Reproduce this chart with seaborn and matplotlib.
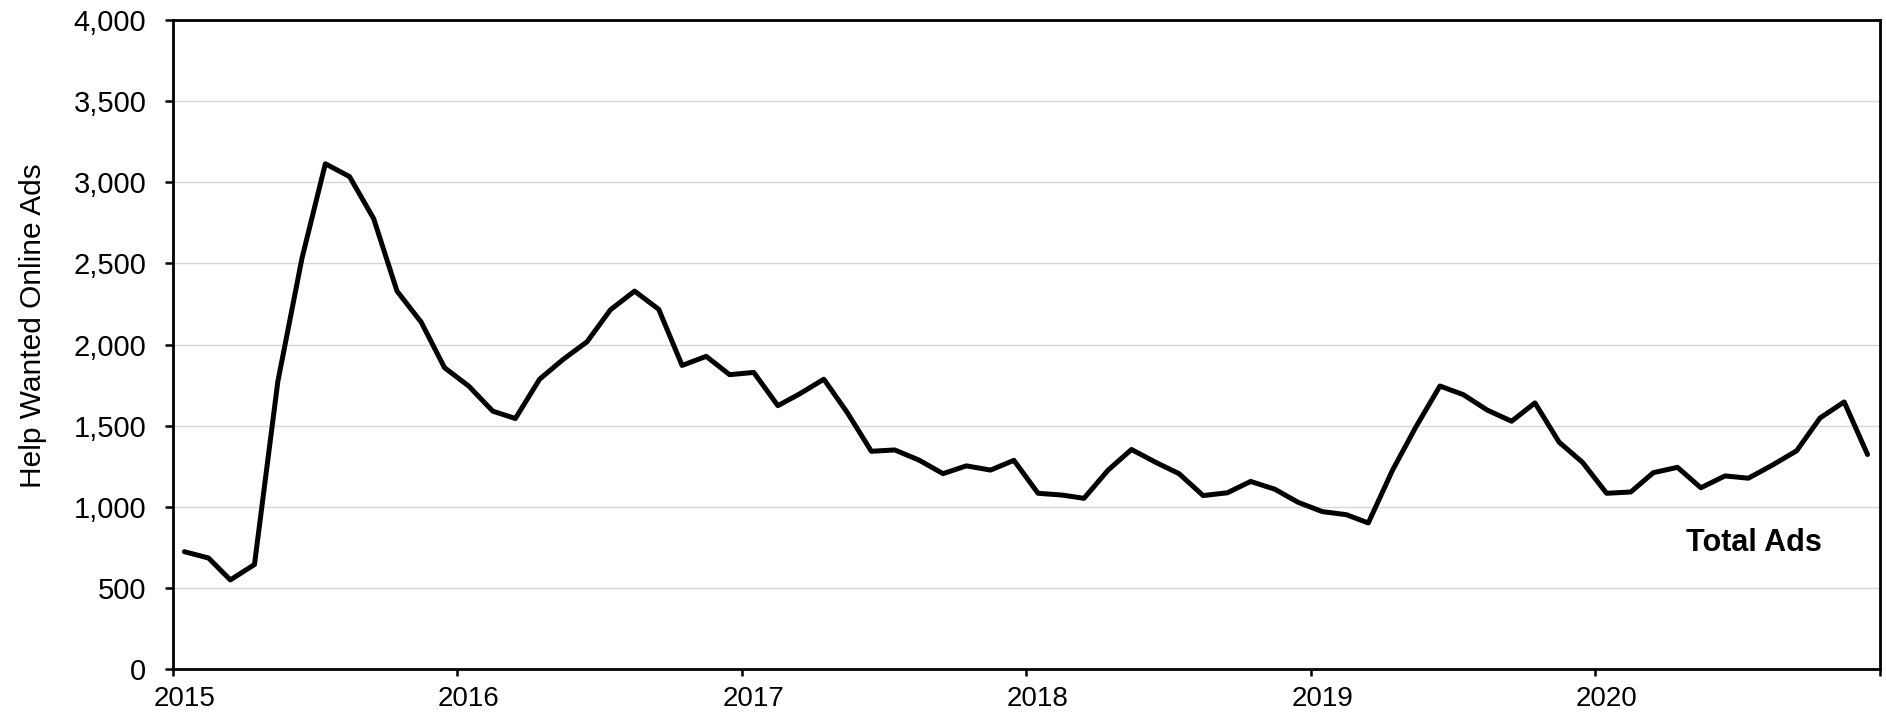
import numpy as np
import pandas as pd
import matplotlib
matplotlib.use("Agg")
import matplotlib.pyplot as plt
import matplotlib.transforms as mtransforms
import seaborn as sns
from matplotlib.ticker import FuncFormatter, MultipleLocator

# ---- data (monthly, Jan 2015 - Dec 2020) ----
ads_2015 = [723, 684, 549, 644, 1772, 2532, 3114, 3035, 2776, 2329, 2138, 1857]
ads_2016 = [1744, 1589, 1544, 1786, 1907, 2017, 2214, 2329, 2217, 1871, 1927, 1814]
ads_2017 = [1828, 1623, 1696, 1786, 1581, 1342, 1350, 1288, 1204, 1252, 1226, 1286]
ads_2018 = [1083, 1072, 1052, 1226, 1353, 1274, 1204, 1069, 1086, 1156, 1108, 1027]
ads_2019 = [970, 951, 900, 1224, 1491, 1744, 1691, 1595, 1527, 1640, 1398, 1274]
ads_2020 = [1083, 1091, 1210, 1243, 1117, 1190, 1176, 1257, 1345, 1547, 1646, 1322]
year_labels = ["2015", "2016", "2017", "2018", "2019", "2020"]
y_label = "Help Wanted Online Ads"
series_label = "Total Ads"

values = ads_2015 + ads_2016 + ads_2017 + ads_2018 + ads_2019 + ads_2020
dates = pd.date_range("2015-01-01", periods=len(values), freq="MS") + pd.Timedelta(days=15)
df = pd.DataFrame({"date": dates, "ads": values})

sns.set_theme(style="white")
plt.rcParams["font.family"] = ["Liberation Sans", "DejaVu Sans"]

W, H = 1886, 716
L, R, T, B = 172.7, 1880, 20, 669
fig = plt.figure(figsize=(W / 100, H / 100), dpi=100)
ax = fig.add_axes([L / W, 1 - B / H, (R - L) / W, (B - T) / H])

sns.lineplot(data=df, x="date", y="ads", ax=ax, color="black", linewidth=3.6)

ax.set_xlim(pd.Timestamp("2015-01-01"), pd.Timestamp("2021-01-01"))
ax.set_ylim(0, 4000)

ax.yaxis.set_major_locator(MultipleLocator(500))
ax.yaxis.set_major_formatter(FuncFormatter(lambda v, p: f"{int(v):,}"))
ax.grid(axis="y", color="#d6d6d6", linewidth=1.0)
ax.set_axisbelow(True)

tick_dates = [pd.Timestamp(f"{y}-01-01") for y in range(2015, 2022)]
ax.set_xticks(tick_dates)
ax.set_xticklabels(year_labels + [""])

for s in ax.spines.values():
    s.set_color("black")
    s.set_linewidth(2.0)

ax.tick_params(axis="x", which="major", direction="out", length=5, width=1.8,
               labelsize=20, pad=7, color="black", labelcolor="black", bottom=True)
ax.tick_params(axis="y", which="major", direction="out", length=6, width=1.8,
               labelsize=21, pad=13, color="black", labelcolor="black", left=True)

# year labels sit slightly to the right of their tick marks
offset = mtransforms.ScaledTranslation(11.5 / 100, 0, fig.dpi_scale_trans)
for lab in ax.get_xticklabels():
    lab.set_transform(lab.get_transform() + offset)

ax.set_xlabel("")
ax.set_ylabel(y_label, fontsize=21.5, color="black")
ax.yaxis.set_label_coords((47 - L) / (R - L), (B - 325.5) / (B - T))

ax.text(pd.Timestamp("2020-07-23"), 729, series_label, fontsize=22, fontweight="bold",
        ha="center", va="baseline", color="black")

fig.savefig("out.png", dpi=100)
